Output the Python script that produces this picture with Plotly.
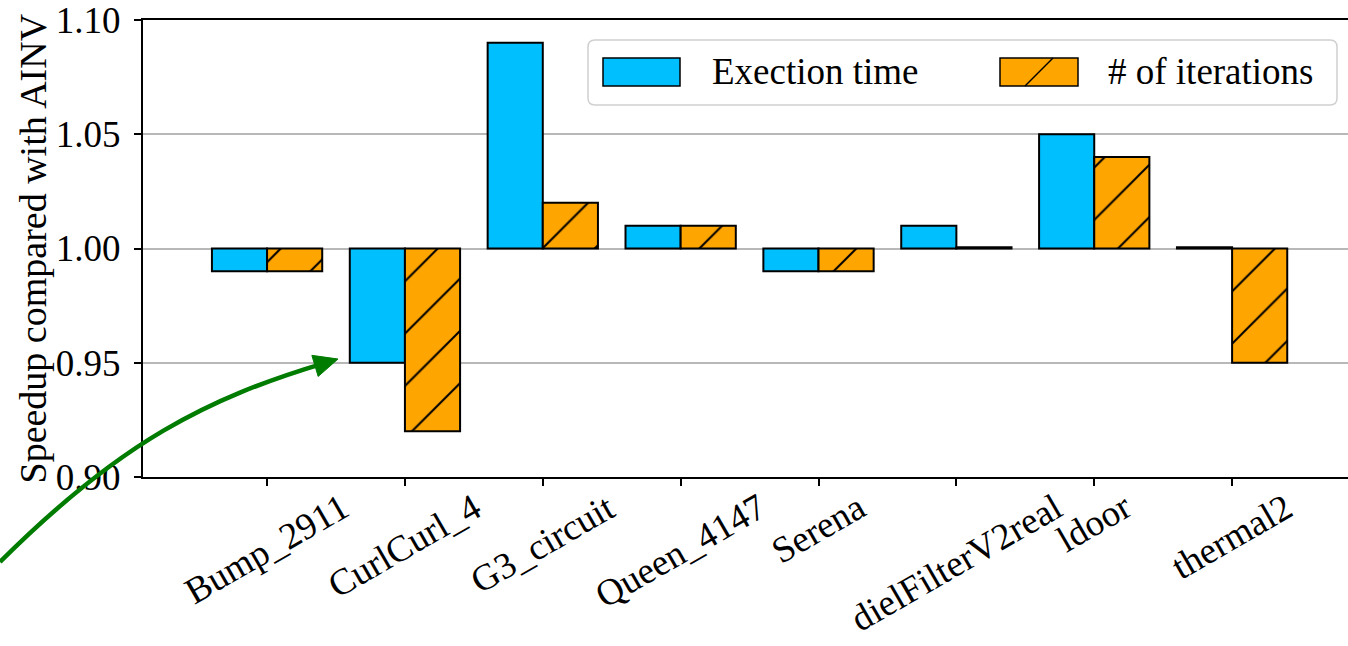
import math
import plotly.graph_objects as go

# ---------------- data ----------------
categories = ["Bump_2911", "CurlCurl_4", "G3_circuit", "Queen_4147",
              "Serena", "dielFilterV2real", "ldoor", "thermal2"]
exec_time = [0.99, 0.95, 1.09, 1.01, 0.99, 1.01, 1.05, 1.00]
iterations = [0.99, 0.92, 1.02, 1.01, 0.99, 1.00, 1.04, 0.95]
y_ticks = [0.90, 0.95, 1.00, 1.05, 1.10]
series_names = ["Exection time", "# of iterations"]
BASE = 1.0

# ---------------- layout helpers ----------------
W, H = 1348, 646
ML, MR, MT, MB = 143, 0, 20, 169
PW, PH = W - ML - MR, H - MT - MB
FONT = "'Liberation Serif', 'Times New Roman', Times, 'Nimbus Roman', serif"
FS = 37
BLUE = "#00BFFF"
ORANGE = "#FFA500"
GREEN = "#007c00"


def px(x):
    return (x - ML) / PW


def py(y):
    return (H - MB - y) / PH


def lengths(vals):
    out = []
    for v in vals:
        d = v - BASE
        out.append(d if abs(d) > 1e-9 else 0.0006)
    return out


xs = list(range(len(categories)))
bw = 0.4

fig = go.Figure()
fig.add_trace(go.Bar(
    x=[i - bw / 2 for i in xs], y=lengths(exec_time), base=BASE, width=bw,
    name=series_names[0], marker=dict(color=BLUE, line=dict(color="black", width=2)),
    showlegend=False))
fig.add_trace(go.Bar(
    x=[i + bw / 2 for i in xs], y=lengths(iterations), base=BASE, width=bw,
    name=series_names[1],
    marker=dict(color=ORANGE, line=dict(color="black", width=2),
                pattern=dict(shape="/", fgcolor="black", fgopacity=1, size=37,
                             solidity=0.055)),
    showlegend=False))

annotations = []
# x tick labels (rotated, centred under ticks)
for i, c in zip(xs, categories):
    annotations.append(dict(x=i, y=0, xref="x", yref="paper", text=c, showarrow=False,
                            textangle=-30, xanchor="center", yanchor="top", yshift=-6,
                            font=dict(family=FONT, size=FS, color="black")))
# y-axis title
annotations.append(dict(x=0, y=0.5, xref="paper", yref="paper",
                        text="Speedup compared with AINV", showarrow=False,
                        textangle=-90, xanchor="center", yanchor="middle", xshift=32 - ML,
                        font=dict(family=FONT, size=38, color="black")))

shapes = []
# legend box (rounded)
bx0, by0, bx1, by1, r = 588, 40, 1337, 105, 7
path = (f"M{px(bx0 + r)},{py(by0)} L{px(bx1 - r)},{py(by0)} "
        f"Q{px(bx1)},{py(by0)} {px(bx1)},{py(by0 + r)} "
        f"L{px(bx1)},{py(by1 - r)} Q{px(bx1)},{py(by1)} {px(bx1 - r)},{py(by1)} "
        f"L{px(bx0 + r)},{py(by1)} Q{px(bx0)},{py(by1)} {px(bx0)},{py(by1 - r)} "
        f"L{px(bx0)},{py(by0 + r)} Q{px(bx0)},{py(by0)} {px(bx0 + r)},{py(by0)} Z")
shapes.append(dict(type="path", xref="paper", yref="paper", path=path,
                   line=dict(color="#d0d0d0", width=1.5),
                   fillcolor="rgba(255,255,255,0.8)", layer="above"))
# legend handles
hy0, hy1 = 58, 86
shapes.append(dict(type="rect", xref="paper", yref="paper", x0=px(603), x1=px(680),
                   y0=py(hy1), y1=py(hy0), fillcolor=BLUE,
                   line=dict(color="black", width=1.5), layer="above"))
shapes.append(dict(type="rect", xref="paper", yref="paper", x0=px(1000), x1=px(1078),
                   y0=py(hy1), y1=py(hy0), fillcolor=ORANGE,
                   line=dict(color="black", width=1.5), layer="above"))
shapes.append(dict(type="line", xref="paper", yref="paper", x0=px(1025), x1=px(1053),
                   y0=py(hy1), y1=py(hy0), line=dict(color="black", width=1.5),
                   layer="above"))
annotations.append(dict(x=px(710), y=py(72), xref="paper", yref="paper",
                        text=series_names[0], showarrow=False, xanchor="left",
                        yanchor="middle", font=dict(family=FONT, size=FS, color="black")))
annotations.append(dict(x=px(1106), y=py(72), xref="paper", yref="paper",
                        text=series_names[1], showarrow=False, xanchor="left",
                        yanchor="middle", font=dict(family=FONT, size=FS, color="black")))

# curved green arrow pointing at CurlCurl_4 execution-time bar
p0 = (0, 562)
tip = (338, 359)
d = (0.958, -0.287)
c1 = (p0[0] + 120, p0[1] - 120)
c2 = (tip[0] - 130, tip[1] + 39)
hl, hw = 24, 11
bc = (tip[0] - hl * d[0], tip[1] - hl * d[1])
perp = (-d[1], d[0])
end = (tip[0] - 15 * d[0], tip[1] - 15 * d[1])
shapes.append(dict(type="path", xref="paper", yref="paper",
                   path=(f"M{px(p0[0])},{py(p0[1])} C{px(c1[0])},{py(c1[1])} "
                         f"{px(c2[0])},{py(c2[1])} {px(end[0])},{py(end[1])}"),
                   line=dict(color=GREEN, width=4.5), fillcolor="rgba(0,0,0,0)",
                   layer="above"))
shapes.append(dict(type="path", xref="paper", yref="paper",
                   path=(f"M{px(tip[0])},{py(tip[1])} "
                         f"L{px(bc[0] + hw * perp[0])},{py(bc[1] + hw * perp[1])} "
                         f"L{px(bc[0] - hw * perp[0])},{py(bc[1] - hw * perp[1])} Z"),
                   line=dict(color=GREEN, width=1), fillcolor=GREEN, layer="above"))

fig.update_layout(
    width=W, height=H, margin=dict(l=ML, r=MR, t=MT, b=MB, pad=0),
    plot_bgcolor="white", paper_bgcolor="white", barmode="overlay",
    font=dict(family=FONT, size=FS, color="black"),
    annotations=annotations, shapes=shapes, showlegend=False,
)
fig.update_xaxes(range=[-0.9, -0.9 + PW / 137.86], tickvals=xs,
                 showticklabels=False, ticks="outside", ticklen=7, tickwidth=1.5,
                 tickcolor="black", showline=True, linecolor="black", linewidth=2,
                 mirror=True, showgrid=False, zeroline=False)
fig.update_yaxes(range=[0.90, 1.1000001], tickvals=y_ticks,
                 ticktext=[f"{t:.2f}" for t in y_ticks], ticks="outside", ticklen=7,
                 tickwidth=1.5, tickcolor="black", showline=True, linecolor="black",
                 linewidth=2, mirror=False, showgrid=True, gridcolor="#b8b8b8",
                 gridwidth=1.5, zeroline=False, ticklabelstandoff=6,
                 ticklabeloverflow="allow",
                 tickfont=dict(family=FONT, size=FS, color="black"))

fig.write_html("out.html", config={"displayModeBar": False},
               post_script="document.body.style.margin='0';"
                           "document.body.style.overflow='hidden';")
